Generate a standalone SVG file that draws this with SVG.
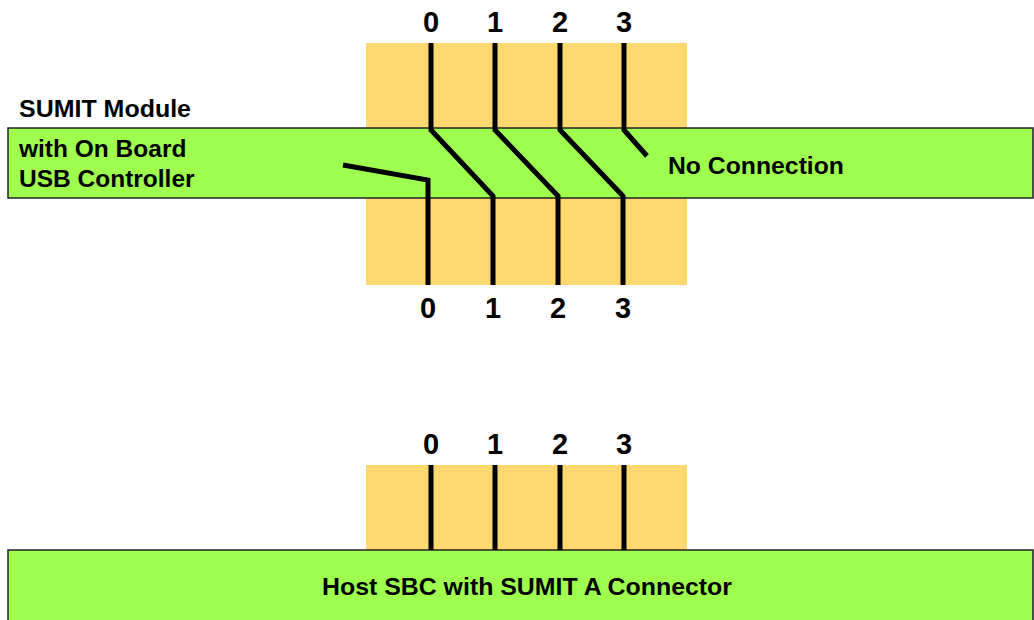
<svg xmlns="http://www.w3.org/2000/svg" width="1034" height="620" viewBox="0 0 1034 620">
<style>
.board{fill:#9FFF4F;stroke:#222;stroke-width:1.5}
.conn{fill:#FFD86F}
.pin{fill:none;stroke:#000;stroke-width:5;stroke-linejoin:miter;stroke-linecap:butt}
.lbl{font-family:"Liberation Sans",Arial,sans-serif;font-weight:bold;fill:#000}
.num{font-size:29px;text-anchor:middle}
.txt{font-size:24.5px}
</style>
<rect width="1034" height="620" fill="#fff"/>
<g id="module-connector">
<rect class="conn" x="366" y="43" width="321" height="242"/>
</g>
<g id="sumit-module">
<rect class="board" x="8" y="128" width="1025" height="70"/>
<text class="lbl txt" x="19" y="117" textLength="172" lengthAdjust="spacingAndGlyphs">SUMIT Module</text>
<text class="lbl txt" x="19" y="157">with On Board</text>
<text class="lbl txt" x="19" y="187">USB Controller</text>
<text class="lbl txt" x="668" y="174" textLength="176" lengthAdjust="spacingAndGlyphs">No Connection</text>
</g>
<g id="host-connector">
<rect class="conn" x="366" y="465" width="321" height="86"/>
</g>
<g id="host-sbc">
<rect class="board" x="8" y="550" width="1025" height="80"/>
<text class="lbl txt" x="322" y="595" textLength="410" lengthAdjust="spacingAndGlyphs">Host SBC with SUMIT A Connector</text>
</g>
<g id="labels">
<text class="lbl num" x="431" y="32">0</text>
<text class="lbl num" x="495" y="32">1</text>
<text class="lbl num" x="560" y="32">2</text>
<text class="lbl num" x="624" y="32">3</text>
<text class="lbl num" x="428" y="318">0</text>
<text class="lbl num" x="493" y="318">1</text>
<text class="lbl num" x="558" y="318">2</text>
<text class="lbl num" x="623" y="318">3</text>
<text class="lbl num" x="431" y="454">0</text>
<text class="lbl num" x="495" y="454">1</text>
<text class="lbl num" x="560" y="454">2</text>
<text class="lbl num" x="624" y="454">3</text>
</g>
<g id="connectors">
<polyline class="pin" points="431,43 431,130 493,196 493,285"/>
<polyline class="pin" points="495,43 495,130 558,196 558,285"/>
<polyline class="pin" points="560,43 560,130 623,196 623,285"/>
<polyline class="pin" points="624,43 624,130 647,156"/>
<polyline class="pin" points="343,165 428,180 428,285"/>
<line class="pin" x1="431" y1="465" x2="431" y2="550"/>
<line class="pin" x1="495" y1="465" x2="495" y2="550"/>
<line class="pin" x1="560" y1="465" x2="560" y2="550"/>
<line class="pin" x1="624" y1="465" x2="624" y2="550"/>
</g>
</svg>
